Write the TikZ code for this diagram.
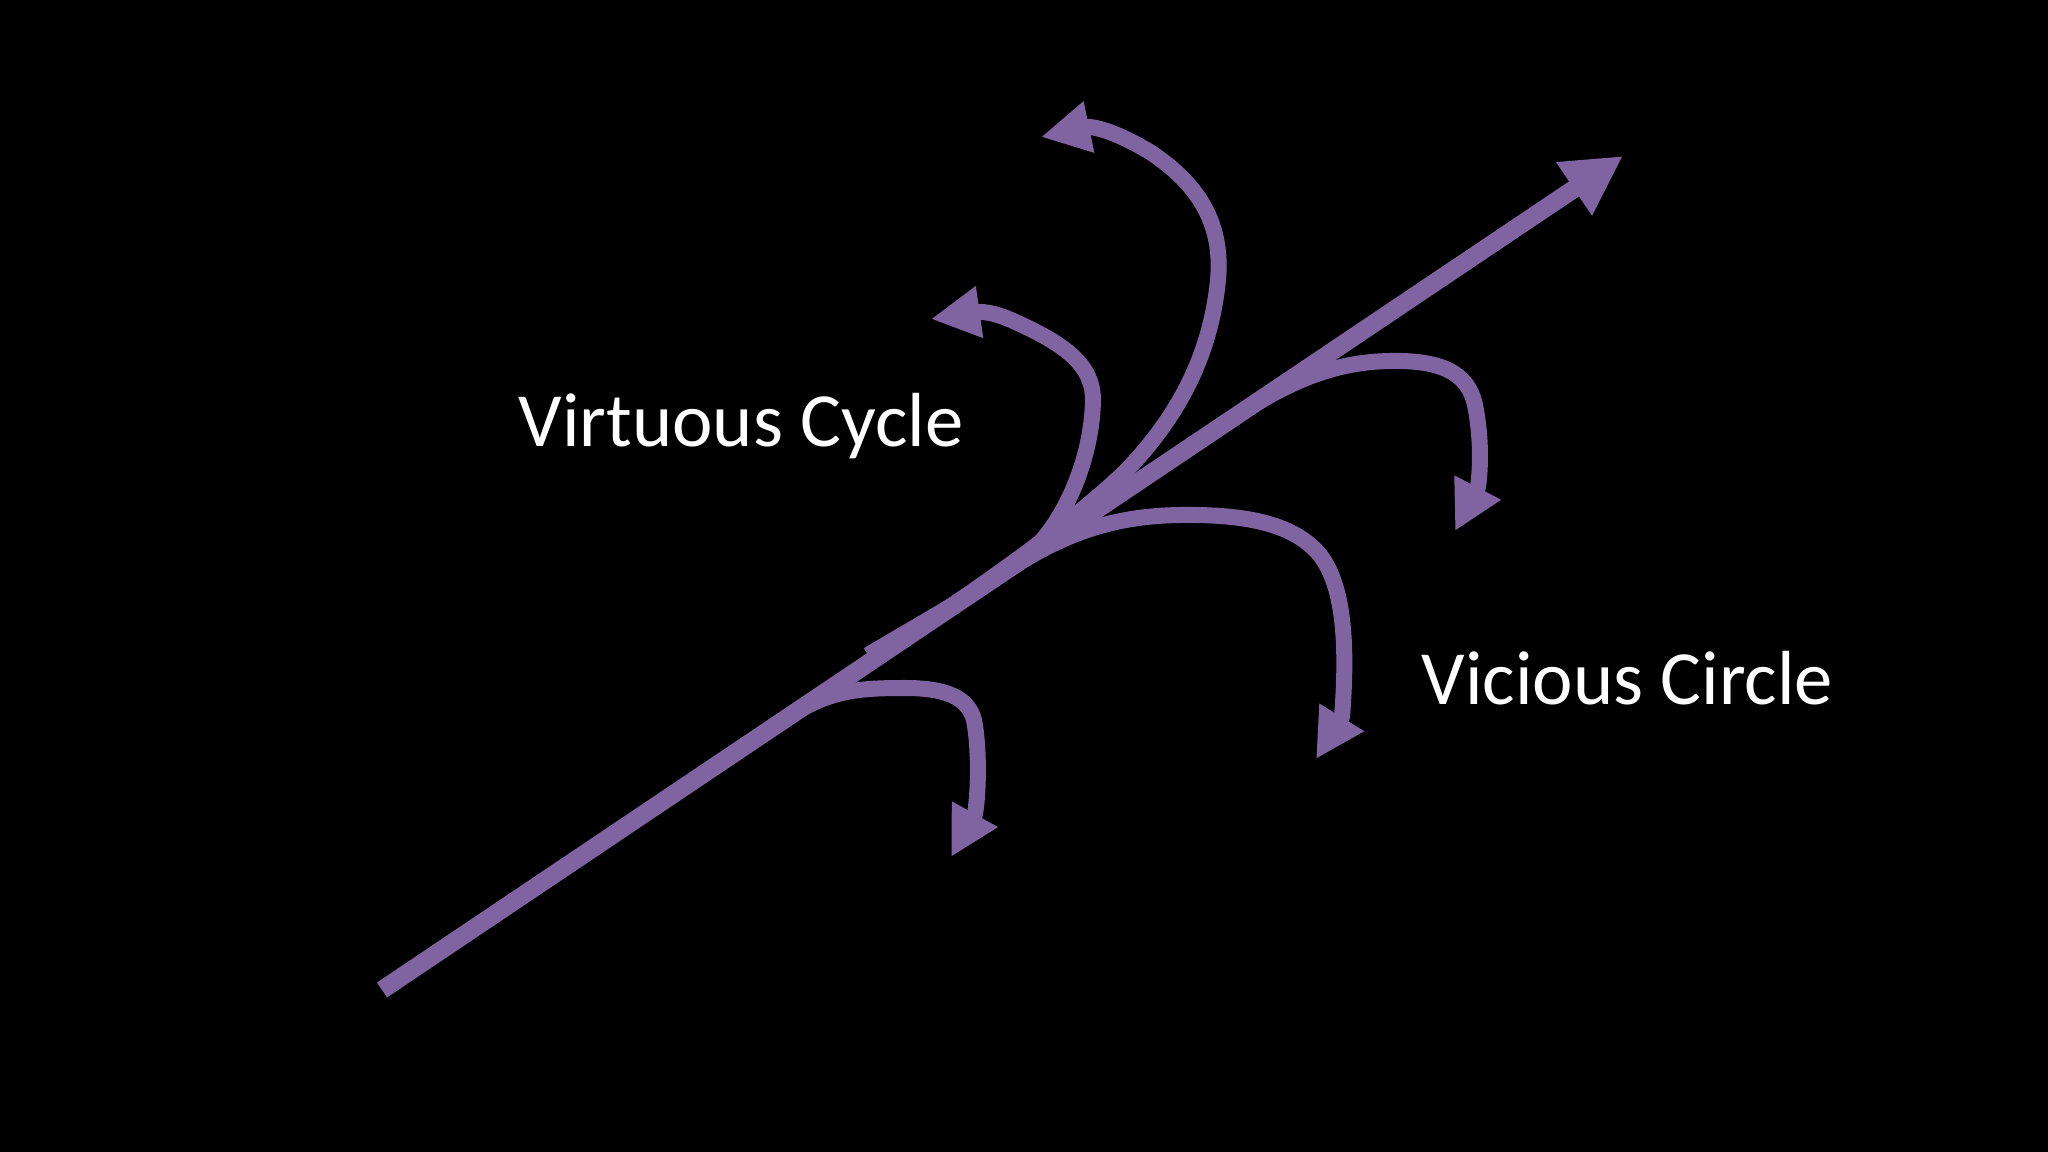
\documentclass[tikz,border=0pt]{standalone}
\usepackage{fontspec}
\setmainfont{Carlito}
\usetikzlibrary{arrows.meta}
\definecolor{arrowpurple}{HTML}{8064A2}
\begin{document}
\begin{tikzpicture}[x=0.01cm,y=-0.01cm,
  flow/.style={draw=arrowpurple, line width=0.16cm, line join=round,
    -{Triangle[length=0.49cm,width=0.49cm]}},
  mainflow/.style={draw=arrowpurple, line width=0.18cm,
    -{Triangle[length=0.59cm,width=0.60cm]}},
  txt/.style={text=white, font=\fontsize{21.8pt}{26pt}\selectfont,
    anchor=base west, inner sep=0pt}]
\fill[black] (0,0) rectangle (2048,1152);
\useasboundingbox (0,0) rectangle (2048,1152);

% end points
\coordinate (mS) at (382,990);  \coordinate (mT) at (1623,156);
\coordinate (aS) at (900,640);  \coordinate (aB) at (1089,127); \coordinate (aT) at (1041,137);
\coordinate (bS) at (868,655);  \coordinate (bB) at (980,312);  \coordinate (bT) at (931,319);
\coordinate (cS) at (1230,420); \coordinate (cB) at (1478,487); \coordinate (cT) at (1455,531);
\coordinate (dS) at (1000,575); \coordinate (dB) at (1342,717); \coordinate (dT) at (1316,759);
\coordinate (eS) at (790,716);  \coordinate (eB) at (975,814);  \coordinate (eT) at (951,857);

% virtuous branches
\draw[flow] (aS) .. controls (1000,575) and (1080,515) .. (1125,472)
  .. controls (1175,420) and (1210,360) .. (1218,280)
  .. controls (1223,225) and (1200,185) .. (1150,152)
  .. controls (1130,140) and (1105,128) .. (aB) -- (aT);
\draw[flow] (bS) .. controls (930,618) and (1000,580) .. (1035,548)
  .. controls (1068,515) and (1092,455) .. (1093,400)
  .. controls (1093,365) and (1065,345) .. (1020,324)
  .. controls (1005,317) and (992,312) .. (bB) -- (bT);

% vicious branches
\draw[flow] (cS) .. controls (1290,380) and (1335,362) .. (1390,361)
  .. controls (1440,360) and (1468,372) .. (1475,405)
  .. controls (1481,435) and (1481,465) .. (cB) -- (cT);
\draw[flow] (dS) .. controls (1060,535) and (1110,516) .. (1180,515)
  .. controls (1250,514) and (1295,525) .. (1320,555)
  .. controls (1343,585) and (1348,640) .. (dB) -- (dT);
\draw[flow] (eS) .. controls (830,690) and (860,688) .. (905,688)
  .. controls (945,688) and (968,697) .. (974,720)
  .. controls (979,745) and (979,790) .. (eB) -- (eT);

% main arrow
\draw[mainflow] (mS) -- (mT);

% labels
\node[txt] (vc) at (518,447) {Virtuous Cycle};
\node[txt] (vi) at (1421,705) {Vicious Circle};
\end{tikzpicture}
\end{document}
